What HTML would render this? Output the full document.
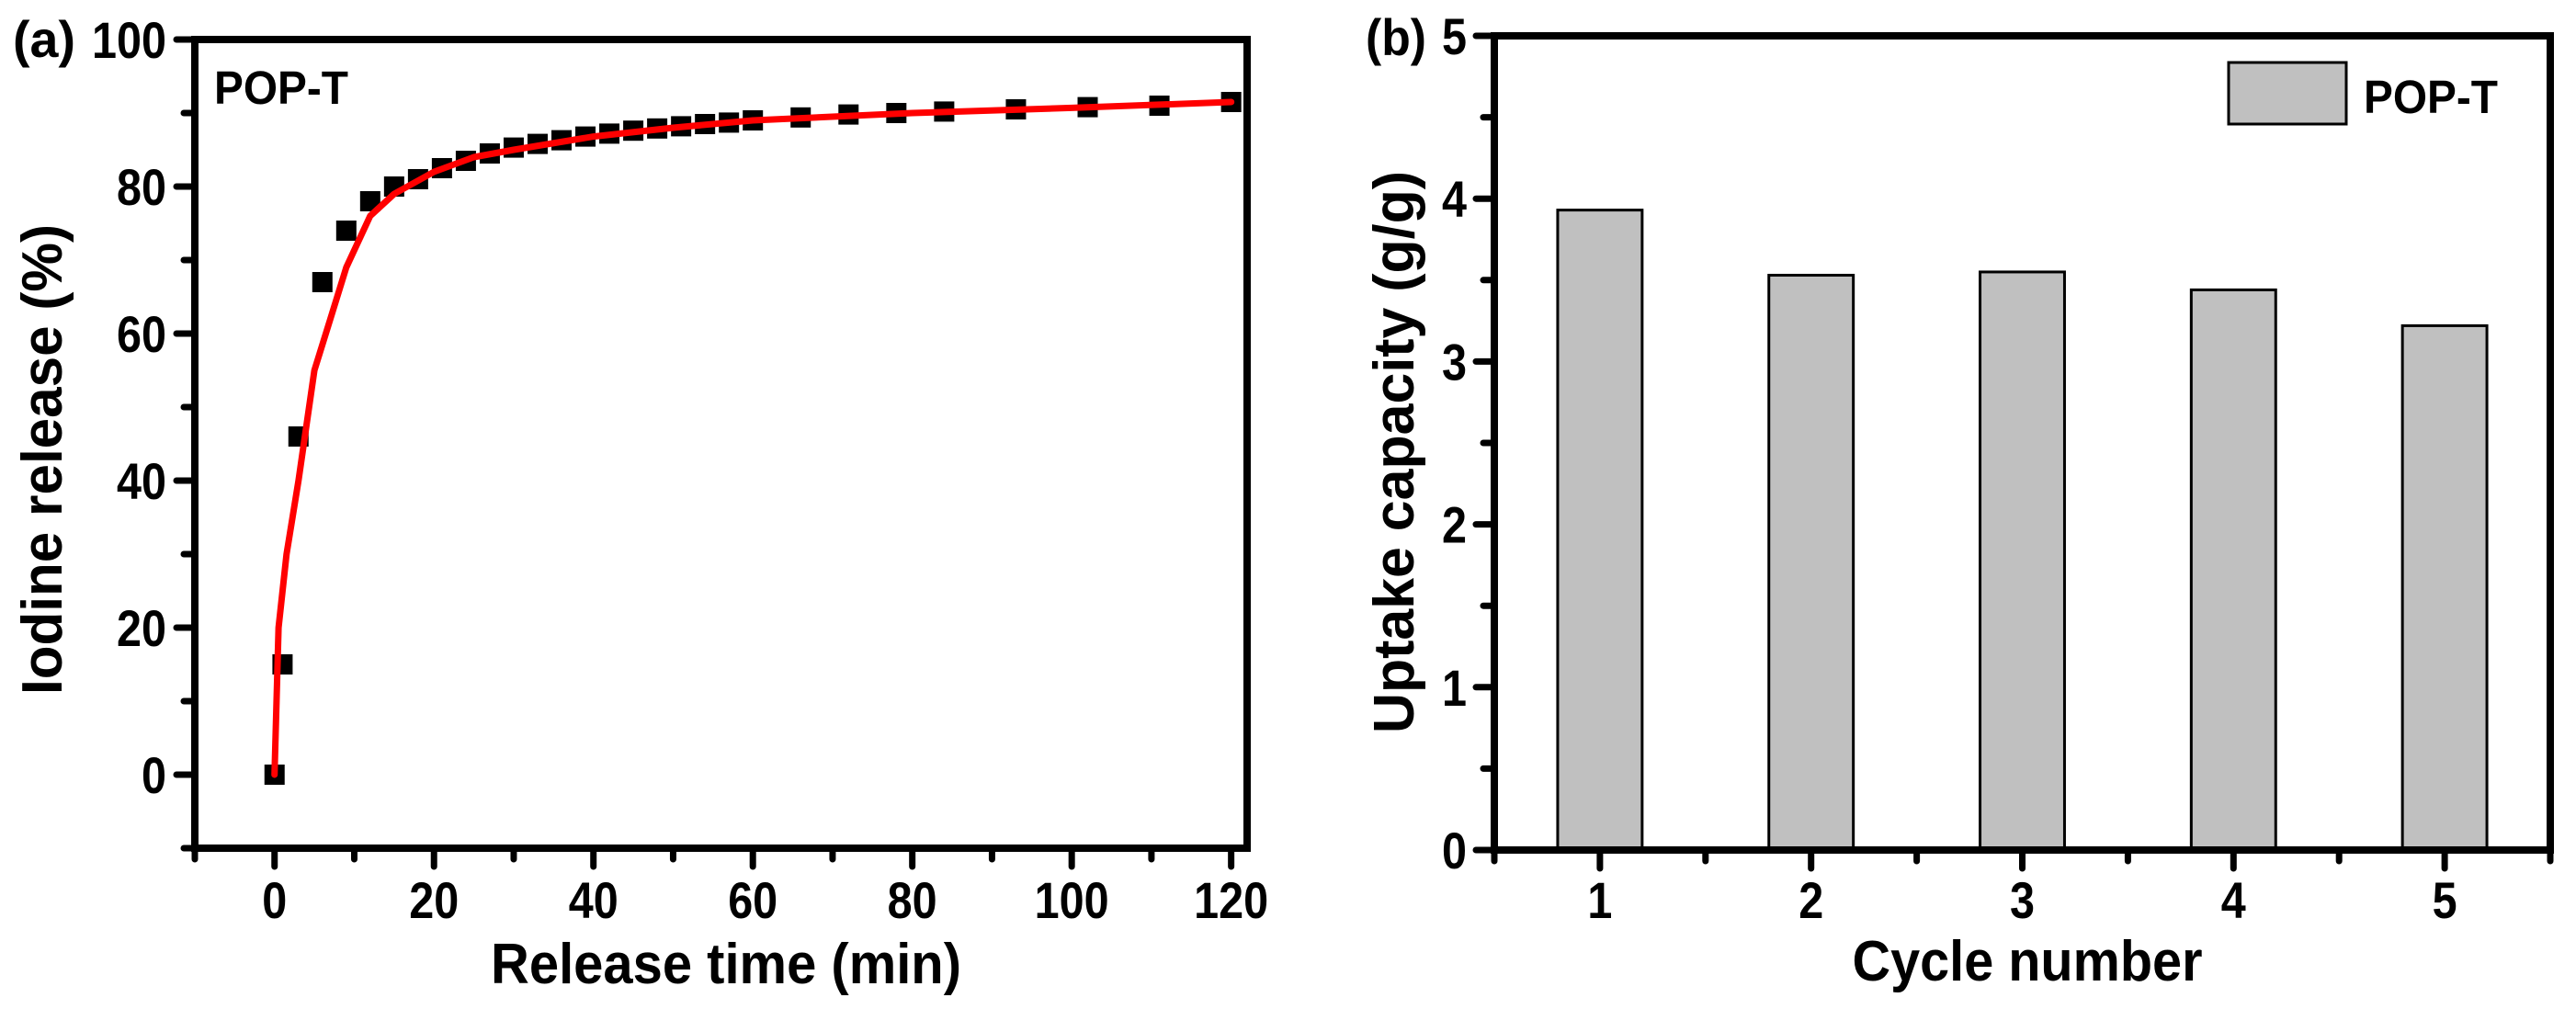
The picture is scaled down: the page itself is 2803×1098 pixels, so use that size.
<!DOCTYPE html>
<html><head><meta charset="utf-8"><style>
html,body{margin:0;padding:0;background:#fff;}
svg{display:block;}
text{font-family:"Liberation Sans",sans-serif;font-weight:bold;fill:#000;}
</style></head><body>
<svg id="chart" width="2803" height="1098" viewBox="0 0 2803 1098" xmlns="http://www.w3.org/2000/svg">
<g id="pa"></g>
<g id="pb"></g>
</svg>
<script>
// Panel (a) data
const relTime = [0,1,3,6,9,12,15,18,21,24,27,30,33,36,39,42,45,48,51,54,57,60,66,72,78,84,93,102,111,120];
const relVal = [0,15,46,67,74,78,80,81,82.5,83.5,84.5,85.3,85.8,86.3,86.8,87.2,87.6,87.9,88.2,88.5,88.7,89,89.4,89.8,90,90.2,90.5,90.8,91,91.5];
const fitTime = [0,0.5,1.5,3,5,7,9,12,15,20,25,30,40,50,60,80,100,120];
const fitVal = [0,20,30,40,55,62,69,76,79,82,84,85,86.8,88,89,90,90.7,91.5];
const xTicksA = [0,20,40,60,80,100,120];
const yTicksA = [0,20,40,60,80,100];
// Panel (b) data
const cycles = ["1","2","3","4","5"];
const uptake = [3.93,3.53,3.55,3.44,3.22];
const yTicksB = [0,1,2,3,4,5];

const NS="http://www.w3.org/2000/svg";
function el(tag,attrs,parent,txt){const e=document.createElementNS(NS,tag);for(const k in attrs)e.setAttribute(k,attrs[k]);if(txt!==undefined)e.textContent=txt;parent.appendChild(e);return e;}
function cond(e,w){e.setAttribute('textLength',w);e.setAttribute('lengthAdjust','spacingAndGlyphs');}

// ---------- Panel A ----------
const pa=document.getElementById('pa');
const axL=212,axR=1357,axT=43,axB=923;
const xA=v=>axL+(v+10)*(axR-axL)/132;
const yA=v=>axT+(100-v)*(axB-axT)/110;
for(let v=-10;v<=120;v+=10){const major=v%20===0;
  const t=el('line',{x1:xA(v),x2:xA(v),y1:axB,y2:axB+(major?20:12),stroke:'#000','stroke-width':7,'stroke-linecap':'round'},pa);
  
  }
for(let v=-10;v<=100;v+=10){const major=v%20===0;
  const t=el('line',{x1:axL,x2:axL-(major?20:12),y1:yA(v),y2:yA(v),stroke:'#000','stroke-width':7,'stroke-linecap':'round'},pa);
  
  }
xTicksA.forEach(v=>{const t=el('text',{x:xA(v),y:999,'text-anchor':'middle','font-size':56},pa,String(v));cond(t,String(v).length*27);
  
  });
yTicksA.forEach(v=>{const t=el('text',{x:181,y:yA(v)+20,'text-anchor':'end','font-size':56},pa,String(v));cond(t,String(v).length*27);
  
  });
const fa=el('rect',{x:axL,y:axT,width:axR-axL,height:axB-axT,fill:'none',stroke:'#000','stroke-width':8},pa);


relTime.forEach((t,i)=>{const s=el('rect',{x:xA(t)-11,y:yA(relVal[i])-11,width:22,height:22,fill:'#000'},pa);
  
  });
const pts=fitTime.map((t,i)=>xA(t).toFixed(1)+','+yA(fitVal[i]).toFixed(1)).join(' ');
const fl=el('polyline',{points:pts,fill:'none',stroke:'#ff0000','stroke-width':7,'stroke-linejoin':'round','stroke-linecap':'round'},pa);


let tx;
tx=el('text',{x:233,y:113,'font-size':51},pa,'POP-T');cond(tx,146);


tx=el('text',{x:14,y:62,'font-size':56},pa,'(a)');cond(tx,68);


tx=el('text',{x:790,y:1070,'text-anchor':'middle','font-size':62},pa,'Release time (min)');cond(tx,512);


tx=el('text',{x:0,y:0,'text-anchor':'middle','font-size':62,transform:'translate(67,500) rotate(-90)'},pa,'Iodine release (%)');cond(tx,512);



// ---------- Panel B ----------
const pb=document.getElementById('pb');
const bL=1626,bR=2775,bT=39,bB=925;
const xB=c=>bL+(c-0.5)*(bR-bL)/5;
const yB=v=>bB-v*(bB-bT)/5;
for(let c=0.5;c<=5.5;c+=0.5){const major=Number.isInteger(c);
  const t=el('line',{x1:xB(c),x2:xB(c),y1:bB,y2:bB+(major?20:12),stroke:'#000','stroke-width':7,'stroke-linecap':'round'},pb);
  
  }
for(let v=0;v<=5;v+=0.5){const major=Number.isInteger(v);
  const t=el('line',{x1:bL,x2:bL-(major?20:12),y1:yB(v),y2:yB(v),stroke:'#000','stroke-width':7,'stroke-linecap':'round'},pb);
  
  }
cycles.forEach((c,i)=>{const t=el('text',{x:xB(i+1),y:999,'text-anchor':'middle','font-size':56},pb,c);cond(t,27);
  
  });
yTicksB.forEach(v=>{const t=el('text',{x:1596,y:yB(v)+20,'text-anchor':'end','font-size':56},pb,String(v));cond(t,27);
  
  });
uptake.forEach((v,i)=>{const w=0.4*(bR-bL)/5;
  const b=el('rect',{x:xB(i+1)-w/2,y:yB(v),width:w,height:bB-yB(v),fill:'#c0c0c0',stroke:'#000','stroke-width':3},pb);
  
  });
const fb=el('rect',{x:bL,y:bT,width:bR-bL,height:bB-bT,fill:'none',stroke:'#000','stroke-width':8},pb);


const lg=el('rect',{x:2425,y:68,width:128,height:67,fill:'#c0c0c0',stroke:'#000','stroke-width':3},pb);


tx=el('text',{x:2572,y:123,'font-size':51},pb,'POP-T');cond(tx,146);


tx=el('text',{x:1486,y:60,'font-size':56},pb,'(b)');cond(tx,66);


tx=el('text',{x:2206,y:1067,'text-anchor':'middle','font-size':62},pb,'Cycle number');cond(tx,381);


tx=el('text',{x:0,y:0,'text-anchor':'middle','font-size':62,transform:'translate(1538,492) rotate(-90)'},pb,'Uptake capacity (g/g)');cond(tx,612);


</script>
</body></html>
